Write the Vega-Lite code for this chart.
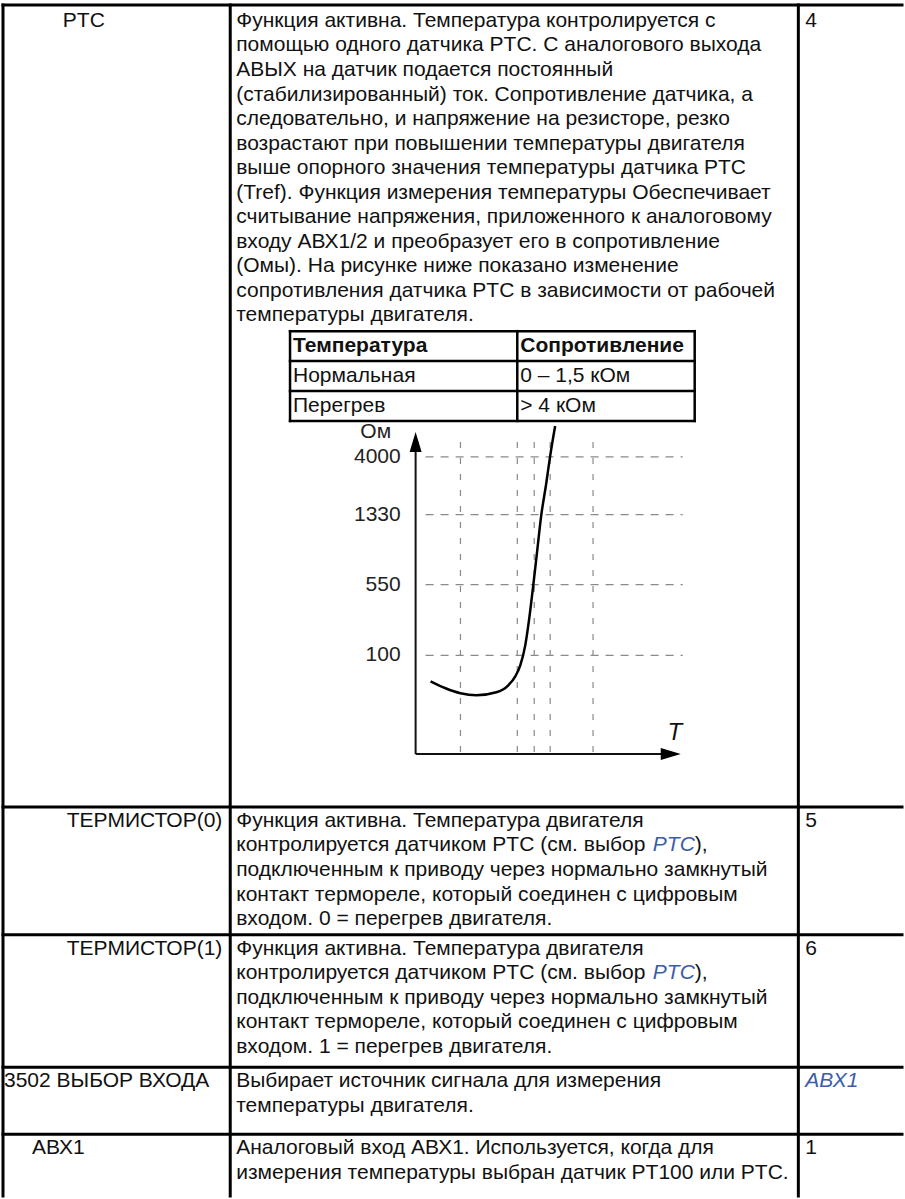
{
  "$schema": "https://vega.github.io/schema/vega-lite/v6.json",
  "width": 905,
  "height": 1199,
  "autosize": {"type": "fit", "contains": "padding"},
  "padding": 0,
  "background": "white",
  "config": {"view": {"stroke": null}, "font": "Liberation Sans"},
  "datasets": {
    "rules": [
      {"kind": "outer", "x": 3, "y": 5, "x2": 905, "y2": 5},
      {"kind": "outer", "x": 3, "y": 5, "x2": 3, "y2": 1199},
      {"kind": "outer", "x": 231, "y": 5, "x2": 231, "y2": 1199},
      {"kind": "outer", "x": 801, "y": 5, "x2": 801, "y2": 1199},
      {"kind": "outer", "x": 3, "y": 809, "x2": 905, "y2": 809},
      {"kind": "outer", "x": 3, "y": 937, "x2": 905, "y2": 937},
      {"kind": "outer", "x": 3, "y": 1070, "x2": 905, "y2": 1070},
      {"kind": "outer", "x": 3, "y": 1137, "x2": 905, "y2": 1137},
      {"kind": "inner", "x": 291, "y": 332, "x2": 697, "y2": 332},
      {"kind": "inner", "x": 291, "y": 362, "x2": 697, "y2": 362},
      {"kind": "inner", "x": 291, "y": 392, "x2": 697, "y2": 392},
      {"kind": "inner", "x": 291, "y": 422, "x2": 697, "y2": 422},
      {"kind": "inner", "x": 291, "y": 332, "x2": 291, "y2": 422},
      {"kind": "inner", "x": 519, "y": 332, "x2": 519, "y2": 422},
      {"kind": "inner", "x": 697, "y": 332, "x2": 697, "y2": 422},
      {"kind": "axis", "x": 417, "y": 756, "x2": 417, "y2": 448},
      {"kind": "axis", "x": 417, "y": 756, "x2": 668, "y2": 756},
      {"kind": "hgrid", "x": 427, "y": 458, "x2": 685, "y2": 458},
      {"kind": "hgrid", "x": 427, "y": 516, "x2": 685, "y2": 516},
      {"kind": "hgrid", "x": 427, "y": 586, "x2": 685, "y2": 586},
      {"kind": "hgrid", "x": 427, "y": 657, "x2": 685, "y2": 657},
      {"kind": "vgrid", "x": 462, "y": 443, "x2": 462, "y2": 756},
      {"kind": "vgrid", "x": 519, "y": 443, "x2": 519, "y2": 756},
      {"kind": "vgrid", "x": 536, "y": 443, "x2": 536, "y2": 756},
      {"kind": "vgrid", "x": 552, "y": 443, "x2": 552, "y2": 756},
      {"kind": "vgrid", "x": 595, "y": 443, "x2": 595, "y2": 756}
    ],
    "arrows": [
      {"dir": "up", "x": 417, "y": 443},
      {"dir": "right", "x": 673, "y": 756}
    ],
    "curve": [
      {"i": 0, "x": 432, "y": 683},
      {"i": 1, "x": 447, "y": 690},
      {"i": 2, "x": 462, "y": 695},
      {"i": 3, "x": 478, "y": 697},
      {"i": 4, "x": 498, "y": 694},
      {"i": 5, "x": 510, "y": 687},
      {"i": 6, "x": 517, "y": 678},
      {"i": 7, "x": 522, "y": 667},
      {"i": 8, "x": 527, "y": 647},
      {"i": 9, "x": 531, "y": 620},
      {"i": 10, "x": 535, "y": 587},
      {"i": 11, "x": 539, "y": 552},
      {"i": 12, "x": 543, "y": 517},
      {"i": 13, "x": 548, "y": 485},
      {"i": 14, "x": 552, "y": 457},
      {"i": 15, "x": 557, "y": 427}
    ],
    "texts": [
      {"kind": "body", "x": 63, "y": 21, "t": "PTC"},
      {"kind": "body", "x": 237, "y": 21, "t": "Функция активна. Температура контролируется с"},
      {"kind": "body", "x": 237, "y": 45.6, "t": "помощью одного датчика PTC. С аналогового выхода"},
      {"kind": "body", "x": 237, "y": 70.2, "t": "АВЫХ на датчик подается постоянный"},
      {"kind": "body", "x": 237, "y": 94.8, "t": "(стабилизированный) ток. Сопротивление датчика, а"},
      {"kind": "body", "x": 237, "y": 119.4, "t": "следовательно, и напряжение на резисторе, резко"},
      {"kind": "body", "x": 237, "y": 144, "t": "возрастают при повышении температуры двигателя"},
      {"kind": "body", "x": 237, "y": 168.6, "t": "выше опорного значения температуры датчика PTC"},
      {"kind": "body", "x": 237, "y": 193.2, "t": "(Tref). Функция измерения температуры Обеспечивает"},
      {"kind": "body", "x": 237, "y": 217.8, "t": "считывание напряжения, приложенного к аналоговому"},
      {"kind": "body", "x": 237, "y": 242.4, "t": "входу АВХ1/2 и преобразует его в сопротивление"},
      {"kind": "body", "x": 237, "y": 267, "t": "(Омы). На рисунке ниже показано изменение"},
      {"kind": "body", "x": 237, "y": 291.6, "t": "сопротивления датчика PTC в зависимости от рабочей"},
      {"kind": "body", "x": 237, "y": 316.2, "t": "температуры двигателя."},
      {"kind": "body", "x": 808, "y": 21, "t": "4"},
      {"kind": "bold", "x": 294, "y": 347, "t": "Температура"},
      {"kind": "bold", "x": 522, "y": 347, "t": "Сопротивление"},
      {"kind": "body", "x": 294, "y": 377, "t": "Нормальная"},
      {"kind": "body", "x": 522, "y": 377, "t": "0 – 1,5 кОм"},
      {"kind": "body", "x": 294, "y": 407, "t": "Перегрев"},
      {"kind": "body", "x": 522, "y": 407, "t": "> 4 кОм"},
      {"kind": "center", "x": 377, "y": 433, "t": "Ом"},
      {"kind": "label", "x": 402, "y": 458, "t": "4000"},
      {"kind": "label", "x": 402, "y": 516, "t": "1330"},
      {"kind": "label", "x": 402, "y": 586, "t": "550"},
      {"kind": "label", "x": 402, "y": 657, "t": "100"},
      {"kind": "axisT", "x": 677, "y": 735, "t": "T"},
      {"kind": "body", "x": 67, "y": 823, "t": "ТЕРМИСТОР(0)"},
      {"kind": "body", "x": 237, "y": 823, "t": "Функция активна. Температура двигателя"},
      {"kind": "body", "x": 237, "y": 847.6, "t": "контролируется датчиком PTC (см. выбор"},
      {"kind": "link", "x": 655, "y": 847.6, "t": "PTC"},
      {"kind": "body", "x": 697, "y": 847.6, "t": "),"},
      {"kind": "body", "x": 237, "y": 872.2, "t": "подключенным к приводу через нормально замкнутый"},
      {"kind": "body", "x": 237, "y": 896.8, "t": "контакт термореле, который соединен с цифровым"},
      {"kind": "body", "x": 237, "y": 921.4, "t": "входом. 0 = перегрев двигателя."},
      {"kind": "body", "x": 808, "y": 823, "t": "5"},
      {"kind": "body", "x": 67, "y": 951, "t": "ТЕРМИСТОР(1)"},
      {"kind": "body", "x": 237, "y": 951, "t": "Функция активна. Температура двигателя"},
      {"kind": "body", "x": 237, "y": 975.6, "t": "контролируется датчиком PTC (см. выбор"},
      {"kind": "link", "x": 655, "y": 975.6, "t": "PTC"},
      {"kind": "body", "x": 697, "y": 975.6, "t": "),"},
      {"kind": "body", "x": 237, "y": 1000.2, "t": "подключенным к приводу через нормально замкнутый"},
      {"kind": "body", "x": 237, "y": 1024.8, "t": "контакт термореле, который соединен с цифровым"},
      {"kind": "body", "x": 237, "y": 1049.4, "t": "входом. 1 = перегрев двигателя."},
      {"kind": "body", "x": 808, "y": 951, "t": "6"},
      {"kind": "body", "x": 4, "y": 1084, "t": "3502 ВЫБОР ВХОДА"},
      {"kind": "body", "x": 237, "y": 1084, "t": "Выбирает источник сигнала для измерения"},
      {"kind": "body", "x": 237, "y": 1108.6, "t": "температуры двигателя."},
      {"kind": "link", "x": 808, "y": 1084, "t": "АВХ1"},
      {"kind": "body", "x": 32, "y": 1151, "t": "АВХ1"},
      {"kind": "body", "x": 237, "y": 1151, "t": "Аналоговый вход АВХ1. Используется, когда для"},
      {"kind": "body", "x": 237, "y": 1175.6, "t": "измерения температуры выбран датчик PT100 или PTC."},
      {"kind": "body", "x": 808, "y": 1151, "t": "1"}
    ]
  },
  "encoding": {
    "x": {"field": "x", "type": "quantitative", "scale": {"domain": [0, 905], "nice": false, "zero": false}, "axis": null},
    "y": {"field": "y", "type": "quantitative", "scale": {"domain": [0, 1199], "nice": false, "zero": false, "reverse": true}, "axis": null}
  },
  "layer": [
    {
      "data": {"name": "rules"},
      "transform": [{"filter": "datum.kind === 'hgrid'"}],
      "mark": {"type": "rule", "color": "#8a8a8a", "strokeWidth": 1.2, "strokeDash": [8, 7]},
      "encoding": {"x2": {"field": "x2"}, "y2": {"field": "y2"}}
    },
    {
      "data": {"name": "rules"},
      "transform": [{"filter": "datum.kind === 'vgrid'"}],
      "mark": {"type": "rule", "color": "#8a8a8a", "strokeWidth": 1.2, "strokeDash": [6, 10]},
      "encoding": {"x2": {"field": "x2"}, "y2": {"field": "y2"}}
    },
    {
      "data": {"name": "rules"},
      "transform": [{"filter": "datum.kind === 'axis'"}],
      "mark": {"type": "rule", "color": "#111", "strokeWidth": 2},
      "encoding": {"x2": {"field": "x2"}, "y2": {"field": "y2"}}
    },
    {
      "data": {"name": "rules"},
      "transform": [{"filter": "datum.kind === 'inner'"}],
      "mark": {"type": "rule", "color": "black", "strokeWidth": 2.5, "strokeCap": "square"},
      "encoding": {"x2": {"field": "x2"}, "y2": {"field": "y2"}}
    },
    {
      "data": {"name": "rules"},
      "transform": [{"filter": "datum.kind === 'outer'"}],
      "mark": {"type": "rule", "color": "black", "strokeWidth": 3, "strokeCap": "square"},
      "encoding": {"x2": {"field": "x2"}, "y2": {"field": "y2"}}
    },
    {
      "data": {"name": "curve"},
      "mark": {"type": "line", "color": "black", "strokeWidth": 2.5, "interpolate": "monotone"},
      "encoding": {"order": {"field": "i", "type": "quantitative"}}
    },
    {
      "data": {"name": "arrows"},
      "mark": {"type": "point", "filled": true, "color": "black", "opacity": 1, "size": 400},
      "encoding": {
        "shape": {"field": "dir", "type": "nominal", "legend": null,
          "scale": {"domain": ["up", "right"], "range": ["M0,-1L0.6,1L-0.6,1Z", "M1,0L-1,0.6L-1,-0.6Z"]}}
      }
    },
    {
      "data": {"name": "texts"},
      "transform": [{"filter": "datum.kind === 'body'"}],
      "mark": {"type": "text", "align": "left", "baseline": "middle", "fontSize": 21, "font": "Liberation Sans", "color": "#111"},
      "encoding": {"text": {"field": "t"}}
    },
    {
      "data": {"name": "texts"},
      "transform": [{"filter": "datum.kind === 'bold'"}],
      "mark": {"type": "text", "align": "left", "baseline": "middle", "fontSize": 21, "fontWeight": "bold", "font": "Liberation Sans", "color": "#111"},
      "encoding": {"text": {"field": "t"}}
    },
    {
      "data": {"name": "texts"},
      "transform": [{"filter": "datum.kind === 'link'"}],
      "mark": {"type": "text", "align": "left", "baseline": "middle", "fontSize": 21, "fontStyle": "italic", "font": "Liberation Sans", "color": "#3b5ca8"},
      "encoding": {"text": {"field": "t"}}
    },
    {
      "data": {"name": "texts"},
      "transform": [{"filter": "datum.kind === 'label'"}],
      "mark": {"type": "text", "align": "right", "baseline": "middle", "fontSize": 21, "font": "Liberation Sans", "color": "#222"},
      "encoding": {"text": {"field": "t"}}
    },
    {
      "data": {"name": "texts"},
      "transform": [{"filter": "datum.kind === 'center'"}],
      "mark": {"type": "text", "align": "center", "baseline": "middle", "fontSize": 21, "font": "Liberation Sans", "color": "#222"},
      "encoding": {"text": {"field": "t"}}
    },
    {
      "data": {"name": "texts"},
      "transform": [{"filter": "datum.kind === 'axisT'"}],
      "mark": {"type": "text", "align": "center", "baseline": "middle", "fontSize": 24, "fontStyle": "italic", "font": "Liberation Sans", "color": "#111"},
      "encoding": {"text": {"field": "t"}}
    }
  ]
}
